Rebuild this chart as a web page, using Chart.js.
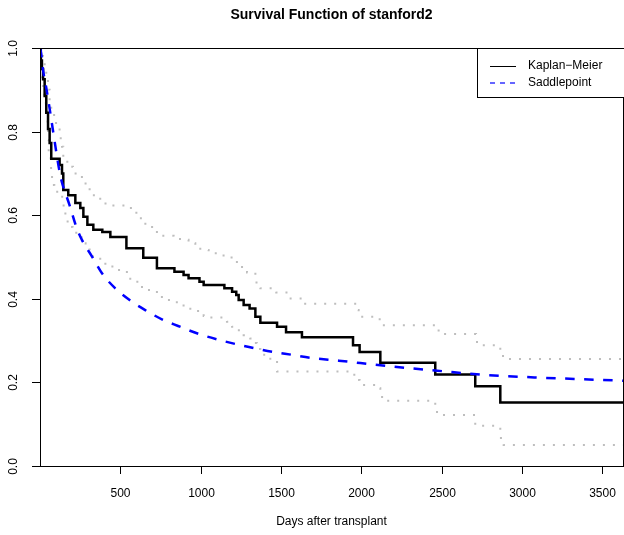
<!DOCTYPE html>
<html>
<head>
<meta charset="utf-8">
<script src="https://cdn.jsdelivr.net/npm/chart.js@4.4.1/dist/chart.umd.min.js"></script>
<style>
  html, body { margin: 0; padding: 0; background: #fff; }
  canvas { display: block; }
</style>
</head>
<body>
<canvas id="canvas" width="624" height="535"></canvas>
<script>
// Kaplan-Meier estimate (day, survival after the step)
const kmDays = [0, 5, 12, 19, 29, 39, 50, 60, 70, 122, 137, 145, 176, 220, 251, 270, 295, 332, 388, 438,
  538, 643, 728, 837, 894, 925, 993, 1019, 1148, 1196, 1222, 1237, 1268, 1305, 1341, 1372, 1476, 1532,
  1631, 1949, 1990, 2119, 2461, 2710, 2866, 3630];
const kmSurv = [1.0, 0.97, 0.95, 0.925, 0.885, 0.845, 0.806, 0.773, 0.735, 0.72, 0.70, 0.66, 0.648, 0.629,
  0.617, 0.596, 0.577, 0.565, 0.560, 0.548, 0.521, 0.498, 0.473, 0.465, 0.457, 0.449, 0.441, 0.433, 0.425,
  0.417, 0.409, 0.397, 0.385, 0.377, 0.357, 0.343, 0.333, 0.320, 0.308, 0.289, 0.273, 0.247, 0.219, 0.191,
  0.152, 0.152];

// upper confidence band
const upDays = [0, 8, 19, 29, 39, 50, 60, 70, 100, 122, 137, 145, 184, 205, 261, 309, 375, 427, 541, 600,
  656, 728, 832, 884, 925, 967, 998, 1050, 1143, 1226, 1258, 1289, 1341, 1372, 1471, 1548, 1641, 1969, 1984,
  2115, 2461, 2482, 2715, 2721, 2866, 2883, 3630];
const upSurv = [1.0, 1.0, 0.98, 0.955, 0.93, 0.90, 0.87, 0.84, 0.81, 0.784, 0.764, 0.728, 0.716, 0.70,
  0.676, 0.648, 0.628, 0.623, 0.617, 0.593, 0.572, 0.551, 0.543, 0.541, 0.533, 0.525, 0.517, 0.509, 0.499,
  0.485, 0.471, 0.463, 0.439, 0.425, 0.415, 0.401, 0.388, 0.373, 0.357, 0.337, 0.329, 0.316, 0.308, 0.289,
  0.273, 0.256, 0.256];

// lower confidence band
const loDays = [0, 10, 19, 27, 39, 47, 50, 54, 69, 75, 89, 122, 147, 158, 172, 203, 226, 268, 284, 309, 375,
  407, 458, 541, 562, 635, 728, 759, 852, 894, 936, 1019, 1060, 1164, 1196, 1227, 1268, 1309, 1330, 1350,
  1372, 1434, 1476, 1957, 1990, 2088, 2119, 2130, 2461, 2472, 2710, 2866, 2870, 2887, 3630];
const loSurv = [1.0, 0.93, 0.90, 0.868, 0.848, 0.808, 0.78, 0.736, 0.694, 0.672, 0.656, 0.644, 0.607, 0.589,
  0.572, 0.558, 0.547, 0.533, 0.518, 0.502, 0.489, 0.477, 0.469, 0.457, 0.441, 0.421, 0.409, 0.397, 0.389,
  0.381, 0.371, 0.359, 0.355, 0.345, 0.333, 0.325, 0.313, 0.305, 0.294, 0.28, 0.266, 0.254, 0.226, 0.206,
  0.194, 0.186, 0.174, 0.156, 0.142, 0.122, 0.096, 0.086, 0.064, 0.05, 0.05];

// saddlepoint approximation
const spDays = [0, 8, 18, 39, 60, 81, 101, 118, 133, 184, 226, 261, 324, 386, 469, 558, 655, 759, 860, 988,
  1102, 1216, 1330, 1451, 1569, 1683, 1860, 2167, 2474, 2760, 3078, 3417, 3630];
const spSurv = [1.0, 0.985, 0.95, 0.905, 0.855, 0.802, 0.752, 0.712, 0.684, 0.624, 0.572, 0.541, 0.501,
  0.461, 0.425, 0.397, 0.373, 0.351, 0.335, 0.316, 0.303, 0.292, 0.282, 0.273, 0.266, 0.259, 0.252, 0.239,
  0.228, 0.218, 0.212, 0.207, 0.204];

const xTicks = [500, 1000, 1500, 2000, 2500, 3000, 3500];
const yTicks = [0, 0.2, 0.4, 0.6, 0.8, 1.0];

const pts = (xs, ys) => xs.map((d, i) => ({ x: d, y: ys[i] }));
const FONT = '"Liberation Sans", Arial, Helvetica, sans-serif';

// box, axes, titles and legend drawn R-style
const frame = {
    id: 'frame',
    afterDraw(chart) {
        const { ctx, chartArea: a, scales: { x, y } } = chart;
        ctx.save();
        ctx.strokeStyle = '#000';
        ctx.fillStyle = '#000';
        ctx.lineWidth = 1;
        ctx.setLineDash([]);
        ctx.strokeRect(a.left + 0.5, a.top + 0.5, a.right - a.left, a.bottom - a.top);

        ctx.font = '12px ' + FONT;
        ctx.textAlign = 'center';
        ctx.textBaseline = 'middle';
        xTicks.forEach(v => {
            const px = Math.round(x.getPixelForValue(v)) + 0.5;
            ctx.beginPath();
            ctx.moveTo(px, a.bottom);
            ctx.lineTo(px, a.bottom + 8);
            ctx.stroke();
            ctx.fillText(String(v), px, a.bottom + 28);
        });
        yTicks.forEach(v => {
            const py = Math.round(y.getPixelForValue(v)) + 0.5;
            ctx.beginPath();
            ctx.moveTo(a.left - 8, py);
            ctx.lineTo(a.left, py);
            ctx.stroke();
            ctx.save();
            ctx.translate(14, py);
            ctx.rotate(-Math.PI / 2);
            ctx.fillText(v.toFixed(1), 0, 0);
            ctx.restore();
        });

        ctx.fillText('Days after transplant', (a.left + a.right) / 2, 522);
        ctx.font = 'bold 14px ' + FONT;
        ctx.fillText('Survival Function of stanford2', (a.left + a.right) / 2, 15);

        // legend
        ctx.font = '12px ' + FONT;
        ctx.fillStyle = '#fff';
        ctx.fillRect(477.5, a.top + 0.5, 150, 49);
        ctx.fillStyle = '#000';
        ctx.strokeRect(477.5, a.top + 0.5, 150, 49);
        ctx.textAlign = 'left';
        ctx.beginPath();
        ctx.moveTo(490, 66.5);
        ctx.lineTo(516, 66.5);
        ctx.stroke();
        ctx.fillText('Kaplan\u2212Meier', 528, 66);
        ctx.strokeStyle = '#0000ff';
        ctx.setLineDash([5, 5]);
        ctx.lineWidth = 1.2;
        ctx.beginPath();
        ctx.moveTo(490, 83);
        ctx.lineTo(516, 83);
        ctx.stroke();
        ctx.fillText('Saddlepoint', 528, 83);
        ctx.restore();
    }
};

const canvas = document.getElementById('canvas');
const ctx = canvas.getContext('2d');

const bandStyle = {
    borderColor: 'rgba(190, 190, 190, 1)',
    borderWidth: 2,
    borderDash: [2, 8],
    stepped: true,
    pointRadius: 0,
    fill: false
};

new Chart(ctx, {
    type: 'line',
    data: {
        datasets: [
            {
                label: 'Saddlepoint',
                data: pts(spDays, spSurv),
                borderColor: '#0000ff',
                borderWidth: 2.5,
                borderDash: [9.5, 9.5],
                cubicInterpolationMode: 'monotone',
                pointRadius: 0,
                fill: false
            },
            {
                label: 'Kaplan-Meier',
                data: pts(kmDays, kmSurv),
                borderColor: '#000000',
                borderWidth: 2.5,
                stepped: true,
                pointRadius: 0,
                fill: false
            },
            Object.assign({ label: 'upper', data: pts(upDays, upSurv) }, bandStyle),
            Object.assign({ label: 'lower', data: pts(loDays, loSurv) }, bandStyle)
        ]
    },
    options: {
        responsive: false,
        animation: false,
        devicePixelRatio: 1,
        layout: {
            padding: { left: 40, top: 48, right: 1, bottom: 69 }
        },
        plugins: {
            legend: { display: false },
            title: { display: false },
            tooltip: { enabled: false }
        },
        scales: {
            x: { type: 'linear', min: 0, max: 3630, display: false },
            y: { type: 'linear', min: 0, max: 1, display: false }
        }
    },
    plugins: [frame]
});
</script>
</body>
</html>
